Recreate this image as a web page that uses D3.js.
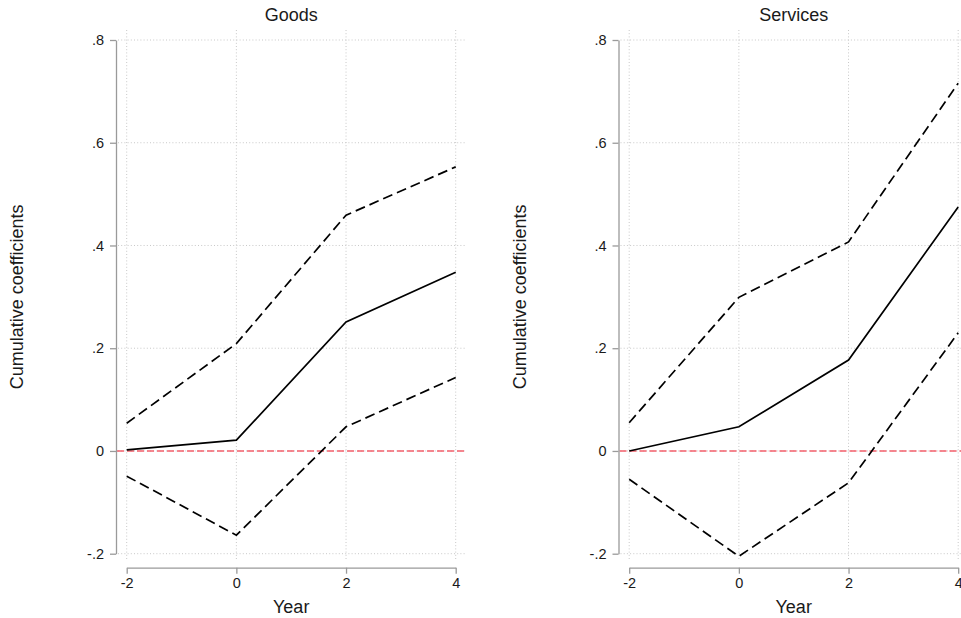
<!DOCTYPE html>
<html>
<head>
<meta charset="utf-8">
<script src="https://cdn.jsdelivr.net/npm/d3@7"></script>
<style>
	body { margin: 0; background: #fff; }
	svg { display: block; font-family: "Liberation Sans", Arial, sans-serif; }
</style>
</head>
<body>
<div id="chart"></div>
<script>
// event years on the x axis
const years = [-2, 0, 2, 4];
const xTicks = [-2, 0, 2, 4];
const yTicks = [-0.2, 0, 0.2, 0.4, 0.6, 0.8];

const panelTitles = ["Goods", "Services"];

// goods: coefficient and confidence band
const goodsCoef = [0.002, 0.021, 0.251, 0.348];
const goodsUpper = [0.054, 0.209, 0.459, 0.553];
const goodsLower = [-0.049, -0.164, 0.047, 0.143];

// services: coefficient and confidence band
const servicesCoef = [0.0, 0.047, 0.177, 0.475];
const servicesUpper = [0.055, 0.299, 0.407, 0.716];
const servicesLower = [-0.055, -0.205, -0.062, 0.230];

const panels = [
	{ title: panelTitles[0], coef: goodsCoef, upper: goodsUpper, lower: goodsLower },
	{ title: panelTitles[1], coef: servicesCoef, upper: servicesUpper, lower: servicesLower },
];

const width = 961, height = 618;
const panelOffset = 502.5;
const plot = { left: 116, right: 466, top: 30, bottom: 560 };

const svg = d3.select("#chart").append("svg")
	.attr("width", width)
	.attr("height", height);

const x = d3.scaleLinear().domain([-2, 4]).range([126.7, 455.7]);
const y = d3.scaleLinear().domain([-0.2, 0.8]).range([553.7, 40]);

// stata style labels: no leading zero, plain hyphen for minus
const fmtY = d => d === 0 ? "0" : d.toFixed(1).replace("0.", ".");
const fmtX = d => String(d);

panels.forEach((p, i) => {
	const g = svg.append("g").attr("transform", "translate(" + (i * panelOffset) + ",0)");

	// grid
	g.selectAll(".hgrid").data(yTicks).join("line")
		.attr("x1", plot.left + 2).attr("x2", plot.right)
		.attr("y1", d => y(d)).attr("y2", d => y(d))
		.attr("stroke", "#c8c8c8").attr("stroke-width", 1)
		.attr("stroke-dasharray", "1,2.2");
	g.selectAll(".vgrid").data(xTicks).join("line")
		.attr("x1", d => x(d)).attr("x2", d => x(d))
		.attr("y1", plot.top).attr("y2", plot.bottom)
		.attr("stroke", "#c8c8c8").attr("stroke-width", 1)
		.attr("stroke-dasharray", "1,2.2");

	// zero reference line
	g.append("line")
		.attr("x1", plot.left + 1).attr("x2", plot.right)
		.attr("y1", y(0)).attr("y2", y(0))
		.attr("stroke", "#f4606c").attr("stroke-width", 1.6)
		.attr("stroke-dasharray", "7,3");

	// y axis
	const yAxis = g.append("g")
		.attr("transform", "translate(" + plot.left + ",0)")
		.call(d3.axisLeft(y).tickValues(yTicks).tickFormat(fmtY).tickSize(6).tickSizeOuter(0).tickPadding(6));

	// x axis
	const xAxis = g.append("g")
		.attr("transform", "translate(0,567.7)")
		.call(d3.axisBottom(x).tickValues(xTicks).tickFormat(fmtX).tickSize(6).tickSizeOuter(0).tickPadding(4));

	[yAxis, xAxis].forEach(a => {
		a.select(".domain").attr("stroke", "#9a9a9a").attr("stroke-width", 1.3);
		a.selectAll(".tick line").attr("stroke", "#9a9a9a").attr("stroke-width", 1.3);
		a.selectAll(".tick text").attr("fill", "#1a1a1a").style("font-size", "14.5px")
			.style("font-family", "'Liberation Sans', Arial, sans-serif");
	});

	const line = d3.line().x((d, j) => x(years[j])).y(d => y(d));

	g.append("path").datum(p.upper).attr("d", line)
		.attr("fill", "none").attr("stroke", "#000").attr("stroke-width", 1.7)
		.attr("stroke-dasharray", "10,5");
	g.append("path").datum(p.lower).attr("d", line)
		.attr("fill", "none").attr("stroke", "#000").attr("stroke-width", 1.7)
		.attr("stroke-dasharray", "10,5");
	g.append("path").datum(p.coef).attr("d", line)
		.attr("fill", "none").attr("stroke", "#000").attr("stroke-width", 1.7);

	// titles
	g.append("text")
		.attr("x", (x(-2) + x(4)) / 2).attr("y", 20.5)
		.attr("text-anchor", "middle")
		.style("font-size", "18px").attr("fill", "#1a1a1a")
		.text(p.title);
	g.append("text")
		.attr("x", (x(-2) + x(4)) / 2).attr("y", 613)
		.attr("text-anchor", "middle")
		.style("font-size", "18px").attr("fill", "#1a1a1a")
		.text("Year");
	g.append("text")
		.attr("transform", "translate(23.3," + ((y(-0.2) + y(0.8)) / 2) + ") rotate(-90)")
		.attr("text-anchor", "middle")
		.style("font-size", "18px").attr("fill", "#1a1a1a")
		.text("Cumulative coefficients");
});
</script>
</body>
</html>
